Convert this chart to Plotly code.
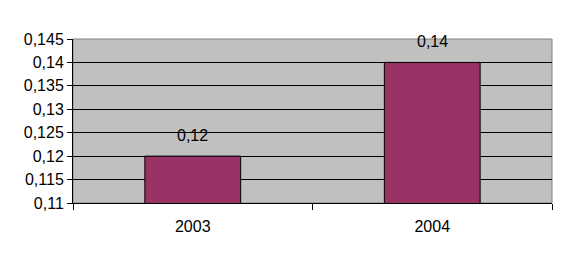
import plotly.graph_objects as go

years = ["2003", "2004"]
values = [0.12, 0.14]
value_labels = ["0,12", "0,14"]
y_ticks = [0.11, 0.115, 0.12, 0.125, 0.13, 0.135, 0.14, 0.145]
y_tick_text = ["0,11", "0,115", "0,12", "0,125", "0,13", "0,135", "0,14", "0,145"]

FONT = "Liberation Sans, Arial"

fig = go.Figure()
fig.add_trace(go.Bar(
    x=years, y=values,
    marker=dict(color="#993366", line=dict(color="black", width=1)),
    text=value_labels, textposition="none", hoverinfo="skip",
))

for i, (v, t) in enumerate(zip(values, value_labels)):
    fig.add_annotation(x=i, y=v, text=t, showarrow=False, yanchor="bottom",
                       yshift=10, font=dict(family=FONT, size=16, color="black"))

fig.add_shape(type="rect", xref="paper", yref="paper", x0=0, x1=1, y0=0, y1=1,
              line=dict(color="#808080", width=1), fillcolor="rgba(0,0,0,0)", layer="between")

fig.update_layout(
    width=571, height=270,
    margin=dict(l=73, r=19, t=39, b=67),
    paper_bgcolor="white", plot_bgcolor="#C0C0C0",
    bargap=0.6, showlegend=False,
    font=dict(family=FONT, size=16, color="black"),
    xaxis=dict(type="category", categoryorder="array", categoryarray=years,
               tickson="boundaries", ticks="outside", ticklen=6,
               tickcolor="black", showline=True, linecolor="black", linewidth=1,
               showgrid=False, tickangle=0, ticklabelstandoff=9),
    yaxis=dict(range=[0.11, 0.145], tickvals=y_ticks, ticktext=y_tick_text,
               ticks="outside", ticklen=5, tickcolor="black",
               showline=True, linecolor="black", linewidth=1,
               showgrid=True, gridcolor="black", gridwidth=1, zeroline=False),
)
fig.write_html("out.html")
